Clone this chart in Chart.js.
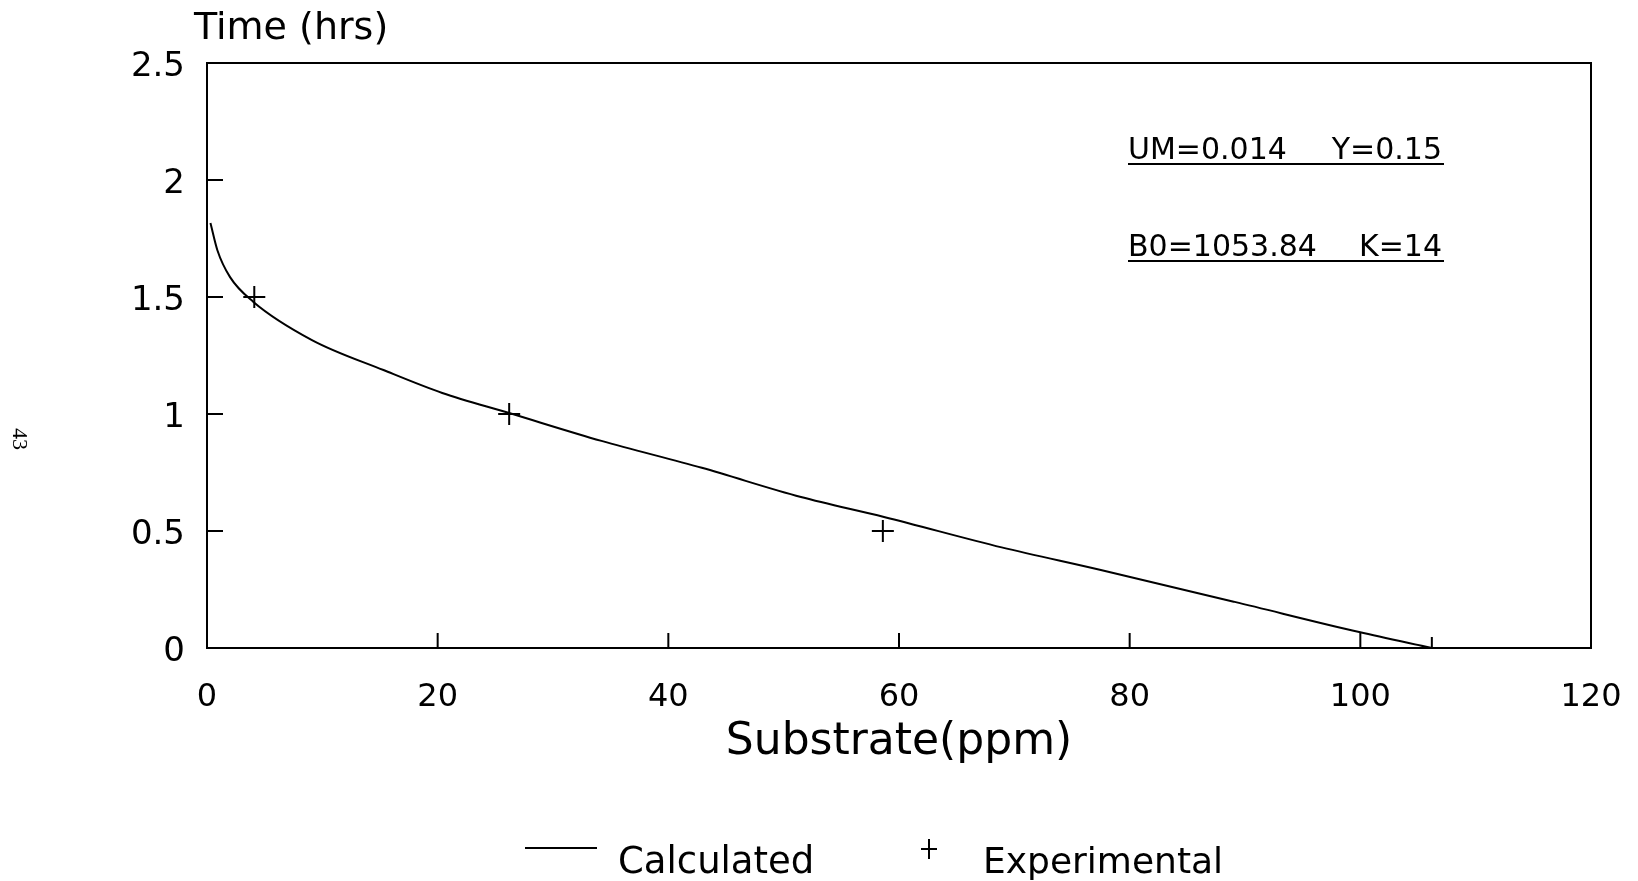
<!DOCTYPE html>
<html>
<head>
<meta charset="utf-8">
<script src="https://cdn.jsdelivr.net/npm/chart.js@4"></script>
<style>
  body { margin: 0; background: #fff; overflow: hidden; }
  canvas { display: block; }
</style>
</head>
<body>
<canvas id="myChart" width="1638" height="881"></canvas>
<script>
// values
var calcX = [0.3, 0.9, 2.0, 4.0, 9.1, 15.3, 20.4, 26.2, 34.2, 42.9, 51.5, 58.7, 68.9, 77.5, 89.1, 99.9, 106.2];
var calcY = [1.816, 1.70, 1.585, 1.48, 1.316, 1.188, 1.09, 1.004, 0.885, 0.77, 0.645, 0.56, 0.43, 0.333, 0.197, 0.068, 0];
var expX = [4.1, 26.2, 58.6, 106.2];
var expY = [1.5, 1.0, 0.5, 0];
var xTicks = [0, 20, 40, 60, 80, 100, 120];
var yTicks = [0, 0.5, 1, 1.5, 2, 2.5];
var params = [['UM=0.014', 'Y=0.15'], ['B0=1053.84', 'K=14']];

var FONT = "'DejaVu Sans', sans-serif";

var frame = {
    id: 'frame',
    afterDraw: function(chart) {
        var ctx = chart.ctx, a = chart.chartArea;
        var x = chart.scales.x, y = chart.scales.y;
        ctx.save();
        ctx.strokeStyle = '#000';
        ctx.fillStyle = '#000';
        ctx.lineWidth = 2;
        ctx.strokeRect(a.left, a.top, a.right - a.left, a.bottom - a.top);

        // short inner tick marks
        ctx.beginPath();
        xTicks.slice(1, -1).forEach(function(v) {
            var px = x.getPixelForValue(v);
            ctx.moveTo(px, a.bottom);
            ctx.lineTo(px, a.bottom - 15);
        });
        yTicks.slice(1, -1).forEach(function(v) {
            var py = y.getPixelForValue(v);
            ctx.moveTo(a.left, py);
            ctx.lineTo(a.left + 16, py);
        });
        ctx.stroke();

        // y axis title, horizontal above the axis
        ctx.font = '38px ' + FONT;
        ctx.textAlign = 'left';
        ctx.textBaseline = 'alphabetic';
        ctx.fillText('Time (hrs)', 194, 39);

        // fit parameters, underlined
        ctx.font = '30px ' + FONT;
        var rows = [159, 256];
        params.forEach(function(p, i) {
            ctx.textAlign = 'left';
            ctx.fillText(p[0], 1128, rows[i]);
            ctx.textAlign = 'right';
            ctx.fillText(p[1], 1442, rows[i]);
            ctx.beginPath();
            ctx.moveTo(1128, rows[i] + 5);
            ctx.lineTo(1444, rows[i] + 5);
            ctx.stroke();
        });

        // legend
        var ds = chart.data.datasets;
        ctx.strokeStyle = ds[0].borderColor;
        ctx.beginPath();
        ctx.moveTo(525, 848);
        ctx.lineTo(597, 848);
        ctx.stroke();
        ctx.strokeStyle = ds[1].borderColor;
        ctx.beginPath();
        ctx.moveTo(921, 849);
        ctx.lineTo(937, 849);
        ctx.moveTo(929, 839);
        ctx.lineTo(929, 859);
        ctx.stroke();
        ctx.font = '37px ' + FONT;
        ctx.textAlign = 'left';
        ctx.fillText(ds[0].label, 618, 873);
        ctx.font = '36px ' + FONT;
        ctx.fillText(ds[1].label, 983, 873);

        // page number in the margin
        ctx.translate(19, 439);
        ctx.rotate(Math.PI / 2);
        ctx.font = "22px 'Liberation Serif', serif";
        ctx.textAlign = 'center';
        ctx.textBaseline = 'middle';
        ctx.fillText('43', 0, 0);
        ctx.restore();
    }
};

var ctx = document.getElementById('myChart').getContext('2d');
var myChart = new Chart(ctx, {
    type: 'scatter',
    data: {
        datasets: [{
            label: 'Calculated',
            data: calcX.map(function(v, i) { return {x: v, y: calcY[i]}; }),
            showLine: true,
            borderColor: '#000',
            borderWidth: 2,
            pointRadius: 0,
            cubicInterpolationMode: 'monotone'
        }, {
            label: 'Experimental',
            data: expX.map(function(v, i) { return {x: v, y: expY[i]}; }),
            showLine: false,
            pointStyle: 'cross',
            pointRadius: 11,
            borderColor: '#000',
            borderWidth: 2
        }]
    },
    options: {
        responsive: false,
        animation: false,
        layout: {
            padding: {top: 63, right: 47, bottom: 0, left: 0}
        },
        plugins: {
            legend: {display: false},
            tooltip: {enabled: false}
        },
        scales: {
            x: {
                type: 'linear',
                min: 0,
                max: 120,
                afterBuildTicks: function(scale) {
                    scale.ticks = xTicks.map(function(v) { return {value: v}; });
                },
                afterFit: function(scale) {
                    scale.height = 233;
                },
                grid: {display: false, drawTicks: false},
                border: {display: false},
                ticks: {
                    color: '#000',
                    padding: 3,
                    maxRotation: 0,
                    // tall line box pushes the labels down without widening the side padding
                    font: {family: FONT, size: 32, lineHeight: 2.9},
                    callback: function(v) { return String(v); }
                },
                title: {
                    display: true,
                    text: 'Substrate(ppm)',
                    color: '#000',
                    padding: {top: 0, bottom: 112},
                    font: {family: FONT, size: 44}
                }
            },
            y: {
                min: 0,
                max: 2.5,
                afterBuildTicks: function(scale) {
                    scale.ticks = yTicks.map(function(v) { return {value: v}; });
                },
                afterFit: function(scale) {
                    scale.width = 207;
                },
                grid: {display: false, drawTicks: false},
                border: {display: false},
                ticks: {
                    color: '#000',
                    padding: 22,
                    labelOffset: 4,
                    font: {family: FONT, size: 34},
                    callback: function(v) { return String(v); }
                }
            }
        }
    },
    plugins: [frame]
});
</script>
</body>
</html>
